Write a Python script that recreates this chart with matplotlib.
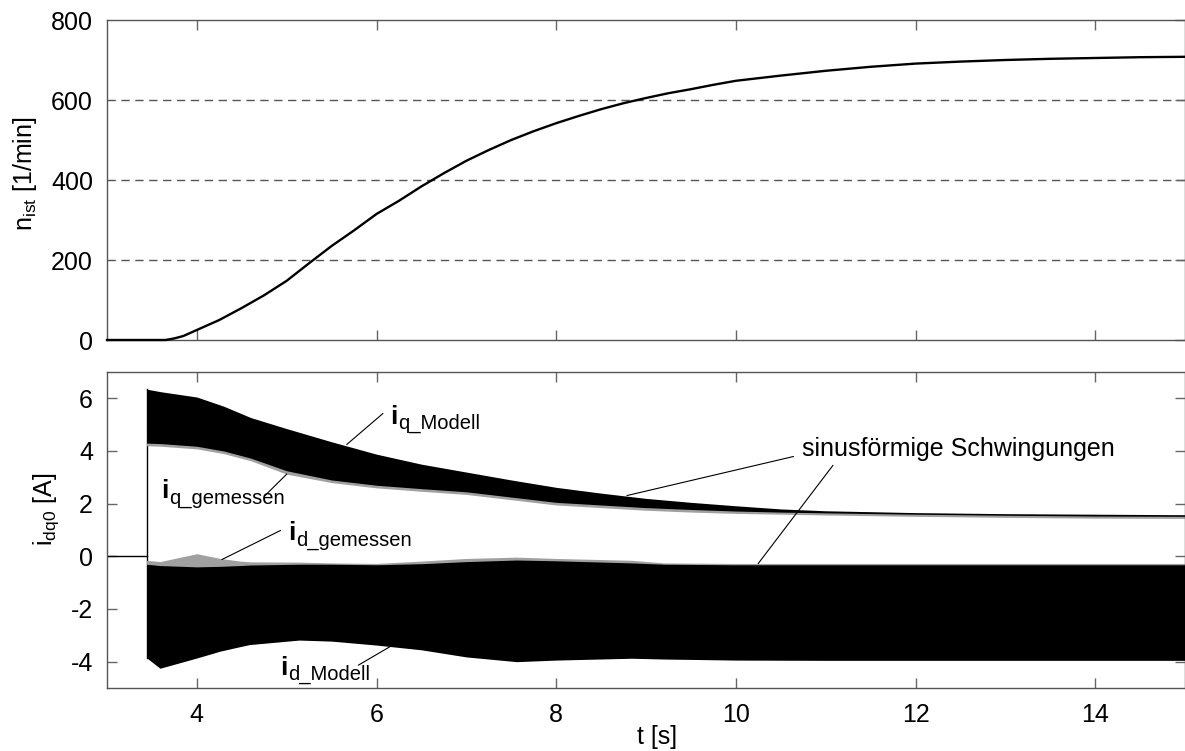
import matplotlib
matplotlib.use('Agg')
import matplotlib.pyplot as plt
from matplotlib.transforms import offset_copy

plt.rcParams['font.family'] = ['Liberation Sans', 'DejaVu Sans']
plt.rcParams['mathtext.fontset'] = 'custom'
plt.rcParams['mathtext.rm'] = 'Liberation Sans'
plt.rcParams['axes.unicode_minus'] = False

# speed n_ist [1/min] over t [s]
t_n = [3.0, 3.5, 3.65, 3.75, 3.85, 4.0, 4.25, 4.5, 4.75, 5.0, 5.25, 5.5, 5.75, 6.0,
       6.25, 6.5, 6.75, 7.0, 7.25, 7.5, 7.75, 8.0, 8.25, 8.5, 8.75, 9.0, 9.25, 9.5,
       9.75, 10.0, 10.5, 11.0, 11.5, 12.0, 12.5, 13.0, 13.5, 14.0, 14.5, 15.0]
n_ist = [0, 0, 0, 4, 10, 25, 50, 80, 112, 148, 192, 235, 274, 315,
         348, 384, 417, 448, 475, 500, 522, 542, 560, 577, 592, 605, 617, 627,
         638, 648, 661, 673, 683, 691, 696, 700, 703, 705, 707, 708]

# current envelopes [A]
t_start = 3.44
t_q = [3.44, 3.6, 4.0, 4.3, 4.6, 5.0, 5.5, 6.0, 6.5, 7.0, 7.5, 8.0, 8.5, 9.0,
       9.5, 10.0, 10.5, 11.0, 12.0, 13.0, 14.0, 15.0]
iq_mod_hi = [6.35, 6.25, 6.05, 5.7, 5.27, 4.85, 4.35, 3.88, 3.5, 3.2, 2.9, 2.62, 2.4, 2.2,
             2.05, 1.92, 1.8, 1.73, 1.66, 1.62, 1.6, 1.58]
iq_mod_lo = [4.3, 4.28, 4.18, 4.0, 3.73, 3.25, 2.9, 2.7, 2.57, 2.45, 2.25, 2.05, 1.95, 1.85,
             1.78, 1.72, 1.68, 1.65, 1.6, 1.56, 1.53, 1.52]
iq_gem_lo = [4.2, 4.18, 4.08, 3.9, 3.63, 3.12, 2.8, 2.6, 2.47, 2.35, 2.15, 1.95, 1.85, 1.75,
             1.68, 1.63, 1.6, 1.57, 1.52, 1.48, 1.45, 1.44]
iq_gem_hi = [5.0, 5.0, 4.9, 4.7, 4.4, 4.0, 3.6, 3.3, 3.0, 2.8, 2.6, 2.35, 2.2, 2.05,
             1.95, 1.85, 1.75, 1.7, 1.64, 1.6, 1.57, 1.56]

t_d = [3.44, 3.59, 4.0, 4.26, 4.48, 4.59, 5.14, 5.5, 6.0, 6.5, 7.0, 7.56, 8.0, 8.84,
       9.2, 10.0, 11.0, 12.0, 13.0, 14.0, 15.0]
id_gem_hi = [-0.15, -0.2, 0.1, -0.08, -0.18, -0.21, -0.22, -0.25, -0.27, -0.18, -0.08, -0.03,
             -0.08, -0.15, -0.25, -0.27, -0.27, -0.27, -0.27, -0.27, -0.27]
id_gem_lo = [-1.5] * len(t_d)
id_mod_hi = [-0.3, -0.35, -0.4, -0.38, -0.35, -0.33, -0.3, -0.3, -0.32, -0.28, -0.2, -0.14,
             -0.17, -0.25, -0.3, -0.32, -0.32, -0.32, -0.32, -0.32, -0.32]
id_mod_lo = [-3.85, -4.25, -3.86, -3.6, -3.43, -3.35, -3.18, -3.22, -3.37, -3.55, -3.82, -4.0,
             -3.94, -3.87, -3.9, -3.94, -3.95, -3.95, -3.95, -3.95, -3.95]

xticks = [4, 6, 8, 10, 12, 14]
nticks = [0, 200, 400, 600, 800]
iticks = [-4, -2, 0, 2, 4, 6]

fig = plt.figure(figsize=(11.85, 7.51), dpi=100)
W, H = 1185, 751
ax1 = fig.add_axes([107 / W, 1 - 340 / H, (W - 107) / W, 320 / H])
ax2 = fig.add_axes([107 / W, 1 - 688 / H, (W - 107) / W, 316 / H])

for ax in (ax1, ax2):
    ax.set_xlim(3, 15)
    ax.set_xticks(xticks)
    ax.tick_params(direction='in', length=7, width=1, color='#666666',
                   top=True, right=True, labelsize=18)
    ax.tick_params(axis='x', pad=11)
    ax.tick_params(axis='y', pad=10)
    for s in ax.spines.values():
        s.set_color('#555555')
        s.set_linewidth(1)

# top panel
ax1.set_ylim(0, 800)
ax1.set_yticks(nticks)
ax1.tick_params(labelbottom=False, left=False)
for v in nticks[1:-1]:
    ax1.axhline(v, color='#555555', lw=1, ls=(0, (6, 4)), zorder=1)
ax1.plot(t_n, n_ist, color='black', lw=1.7, zorder=3, clip_on=False)
ax1.set_ylabel(r'n$_{\mathrm{ist}}$ [1/min]', fontsize=18, va='center')
ax1.yaxis.set_label_coords(-0.076, 0.52)

# bottom panel
ax2.set_ylim(-5, 7)
ax2.set_yticks(iticks)
ax2.plot([3, t_start], [0, 0], color='black', lw=1)
ax2.plot([t_start, t_start], [id_mod_lo[0], iq_mod_hi[0]], color='black', lw=1)
ax2.fill_between(t_q, iq_gem_lo, iq_gem_hi, color='#a0a0a0', lw=0, zorder=2)
ax2.fill_between(t_q, iq_mod_lo, iq_mod_hi, color='black', lw=0, zorder=3)
ax2.fill_between(t_d, id_gem_lo, id_gem_hi, color='#a0a0a0', lw=0, zorder=2)
ax2.fill_between(t_d, id_mod_lo, id_mod_hi, color='black', lw=0, zorder=3)
ax2.set_ylabel(r'i$_{\mathrm{dq0}}$ [A]', fontsize=18, va='center')
ax2.yaxis.set_label_coords(-0.056, 0.566)
ax2.set_xlabel('t [s]', fontsize=18, va='center')
ax2.xaxis.set_label_coords(0.51, -0.155)


def label(x, y, sub):
    ax2.text(x, y, 'i', fontsize=19, fontweight='bold', ha='left', va='baseline', zorder=5)
    tr = offset_copy(ax2.transData, fig=fig, x=8, y=-5, units='dots')
    ax2.text(x, y, sub, fontsize=14.5, ha='left', va='baseline', transform=tr, zorder=5)


def leader(x0, y0, x1, y1):
    ax2.plot([x0, x1], [y0, y1], color='black', lw=0.8, zorder=6)


label(6.15, 5.04, 'q_Modell')
leader(6.07, 5.42, 5.67, 4.25)
label(3.60, 2.20, 'q_gemessen')
leader(4.76, 2.31, 5.0, 3.12)
label(5.02, 0.61, 'd_gemessen')
leader(4.93, 0.98, 4.28, -0.12)
label(4.93, -4.5, 'd_Modell')
leader(5.8, -4.13, 6.15, -3.43)

ax2.text(10.74, 4.09, 'sinusförmige Schwingungen', fontsize=18, ha='left', va='center', zorder=5)
leader(10.64, 3.79, 8.79, 2.31)
leader(11.08, 3.45, 10.25, -0.27)

fig.savefig('out.png', dpi=100)
